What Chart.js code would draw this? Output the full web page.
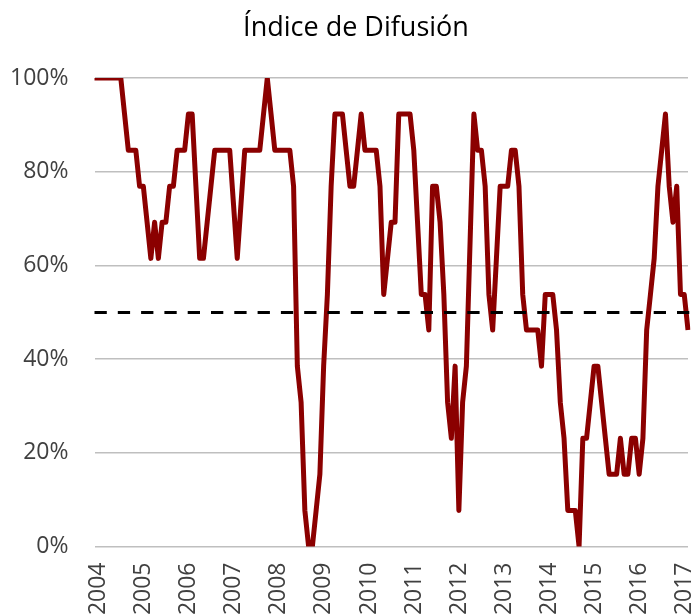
<!DOCTYPE html>
<html>
<head>
<meta charset="utf-8">
<script src="https://cdn.jsdelivr.net/npm/chart.js@4.4.1/dist/chart.umd.min.js"></script>
<style>
  html, body { margin: 0; padding: 0; background: #ffffff; overflow: hidden; }
  #wrap { width: 693px; height: 614px; position: relative; }
</style>
</head>
<body>
<div id="wrap"><canvas id="c" width="693" height="614"></canvas></div>
<script>
// ---- data ----
const TITLE = 'Índice de Difusión';
const yearTicks = ['2004','2005','2006','2007','2008','2009','2010','2011','2012','2013','2014','2015','2016','2017'];
const monthsInLastYear = 3; // data runs Jan 2004 .. Mar 2017
const yTicks = [0, 20, 40, 60, 80, 100];
const THRESHOLD = 50;

// diffusion index (% of components rising), monthly
const values = [
  100,100,100,100,100,100,100,100,
  92.3,84.6,84.6,84.6,
  76.9,76.9,69.2,61.5,69.2,61.5,69.2,69.2,76.9,76.9,84.6,84.6,
  84.6,92.3,92.3,76.9,61.5,61.5,69.2,76.9,84.6,84.6,84.6,84.6,
  84.6,73.1,61.5,73.1,84.6,84.6,84.6,84.6,84.6,92.3,100,92.3,
  84.6,84.6,84.6,84.6,84.6,76.9,38.5,30.8,7.7,0,0,7.7,
  15.4,38.5,53.8,76.9,92.3,92.3,92.3,84.6,76.9,76.9,84.6,92.3,
  84.6,84.6,84.6,84.6,76.9,53.8,61.5,69.2,69.2,92.3,92.3,92.3,
  92.3,84.6,69.2,53.8,53.8,46.2,76.9,76.9,69.2,53.8,30.8,23.1,
  38.5,7.7,30.8,38.5,65.4,92.3,84.6,84.6,76.9,53.8,46.2,61.5,
  76.9,76.9,76.9,84.6,84.6,76.9,53.8,46.2,46.2,46.2,46.2,38.5,
  53.8,53.8,53.8,46.2,30.8,23.1,7.7,7.7,7.7,0,23.1,23.1,
  30.8,38.5,38.5,30.8,23.1,15.4,15.4,15.4,23.1,15.4,15.4,23.1,
  23.1,15.4,23.1,46.2,53.8,61.5,76.9,84.6,92.3,76.9,69.2,76.9,
  53.8,53.8,46.2
];

// monthly category labels built from the year ticks
const categories = [];
yearTicks.forEach((y, yi) => {
  const n = (yi === yearTicks.length - 1) ? monthsInLastYear : 12;
  for (let m = 1; m <= n; m++) categories.push(y + '-' + String(m).padStart(2, '0'));
});

// ---- styles ----
const FONT = 'Open Sans';
const TEXT = '#404040';

const refLine = {
  id: 'refLine',
  afterLayout(chart) {
    // centre the title a little right of the canvas middle, as in the original
    if (chart.titleBlock) chart.titleBlock.left += 24;
  },
  afterDatasetsDraw(chart) {
    const { ctx, chartArea, scales } = chart;
    const y = Math.round(scales.y.getPixelForValue(THRESHOLD)) + 0.5;
    ctx.save();
    ctx.strokeStyle = '#000000';
    ctx.lineWidth = 3;
    ctx.setLineDash([12.3, 11]);
    ctx.beginPath();
    ctx.moveTo(chartArea.left, y);
    ctx.lineTo(chart.width, y);
    ctx.stroke();
    ctx.restore();
  }
};

new Chart(document.getElementById('c'), {
  type: 'line',
  data: {
    labels: categories,
    datasets: [{
      data: values,
      borderColor: '#8B0000',
      borderWidth: 5,
      borderJoinStyle: 'round',
      borderCapStyle: 'butt',
      pointRadius: 0,
      tension: 0,
      fill: false
    }]
  },
  options: {
    responsive: false,
    animation: false,
    devicePixelRatio: 1,
    layout: { padding: { left: 0, right: 5, top: 0, bottom: 0 } },
    plugins: {
      legend: { display: false },
      tooltip: { enabled: false },
      title: {
        display: true,
        text: TITLE,
        color: '#000000',
        font: { family: FONT, size: 27, weight: 'normal', lineHeight: 1.2 },
        padding: { top: 12.3, bottom: 33.3 }
      }
    },
    scales: {
      x: {
        type: 'category',
        offset: false,
        grid: { display: false, drawTicks: false },
        border: { display: false },
        ticks: {
          autoSkip: false,
          maxRotation: 90,
          minRotation: 90,
          padding: 16,
          labelOffset: 4,
          color: TEXT,
          font: { family: FONT, size: 23 },
          callback: (v, i) => (i % 12 === 0 ? yearTicks[i / 12] : null)
        },
        afterFit: (s) => { s.height = 67.5; s.paddingLeft = 0; s.paddingRight = 0; }
      },
      y: {
        min: 0,
        max: 100,
        afterBuildTicks: (s) => { s.ticks = yTicks.map(v => ({ value: v })); },
        ticks: {
          padding: 26,
          color: TEXT,
          font: { family: FONT, size: 23 },
          callback: (v) => v + '%'
        },
        grid: { color: '#bfbfbf', lineWidth: 1.5, drawTicks: false },
        border: { display: false },
        afterFit: (s) => { s.width = 94.5; }
      }
    }
  },
  plugins: [refLine]
});
</script>
</body>
</html>
